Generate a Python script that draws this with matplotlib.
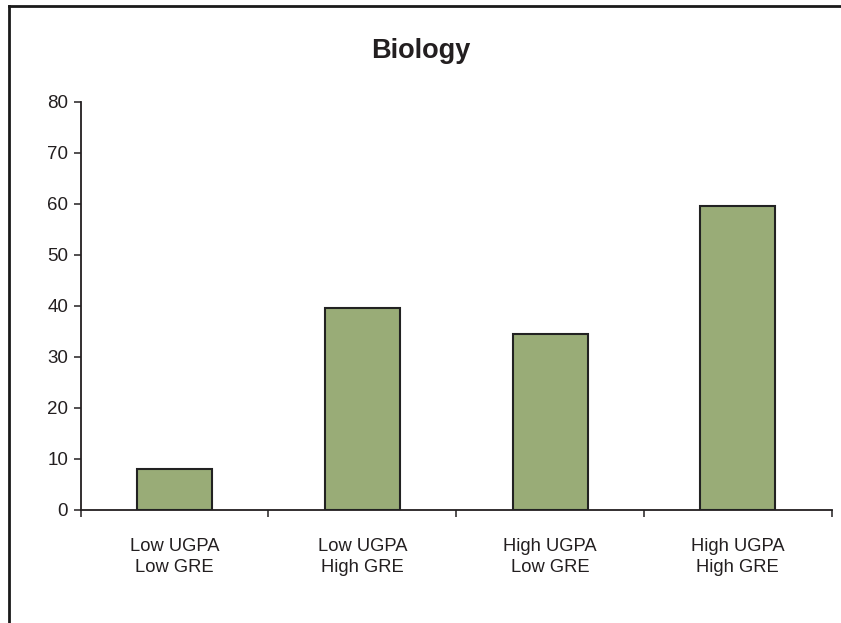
import numpy as np
import matplotlib.pyplot as plt
from matplotlib.lines import Line2D

categories = ["Low UGPA\nLow GRE", "Low UGPA\nHigh GRE", "High UGPA\nLow GRE", "High UGPA\nHigh GRE"]
values = [8.0, 39.6, 34.5, 59.6]
yticks = [0, 10, 20, 30, 40, 50, 60, 70, 80]

plt.rcParams['font.family'] = ['Liberation Sans', 'DejaVu Sans']
ink = '#231f20'

fig = plt.figure(figsize=(8.41, 6.23), dpi=100)
ax = fig.add_axes([0.096, 0.1814, 0.893, 0.6549])

x = np.arange(len(categories))
ax.bar(x, values, width=0.4, color='#99ac77', edgecolor='#222222', linewidth=1.5, zorder=3)

ax.set_xlim(-0.5, len(categories) - 0.5)
ax.set_ylim(0, 80)
ax.set_yticks(yticks)
ax.set_yticklabels([str(v) for v in yticks], fontsize=13.5, color=ink)
ax.tick_params(axis='y', direction='out', length=5, width=1.1, pad=4.0, color=ink)

# category labels in the middle, tick marks at the boundaries
ax.set_xticks(x)
ax.set_xticklabels(categories, fontsize=13.2, color=ink, linespacing=1.3)
ax.tick_params(axis='x', which='major', length=0, pad=20)
ax.set_xticks(np.arange(-0.5, len(categories)), minor=True)
ax.tick_params(axis='x', which='minor', direction='out', length=5, width=1.1, color=ink)

for side in ['top', 'right']:
    ax.spines[side].set_visible(False)
for side in ['left', 'bottom']:
    ax.spines[side].set_linewidth(1.3)
    ax.spines[side].set_color(ink)

fig.text(0.5, 0.918, "Biology", ha='center', va='center', fontsize=19.5, fontweight='bold', color=ink)

# frame drawn around the chart in the source (top and left edges visible)
fig.add_artist(Line2D([8.5 / 841, 1.0], [1 - 5.5 / 623, 1 - 5.5 / 623], color='#1a1a1a', linewidth=2.0))
fig.add_artist(Line2D([8.5 / 841, 8.5 / 841], [0, 1 - 5.5 / 623], color='#1a1a1a', linewidth=2.0))

fig.savefig("out.png", dpi=100)
